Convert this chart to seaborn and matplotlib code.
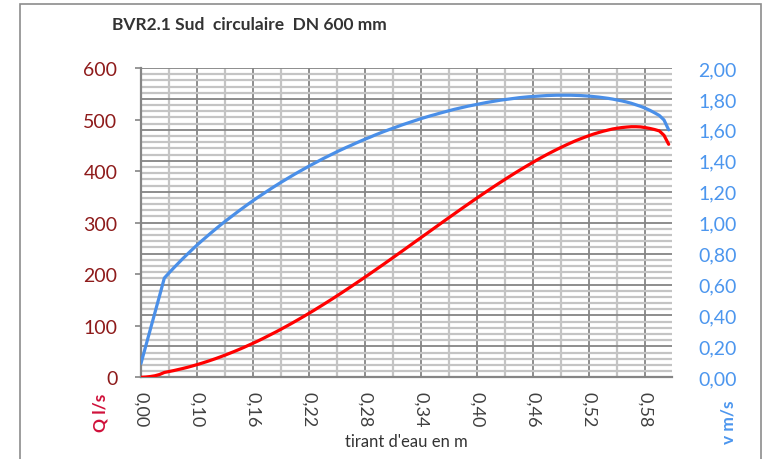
import numpy as np
import pandas as pd
import matplotlib
matplotlib.use("Agg")
import matplotlib.pyplot as plt
from matplotlib.ticker import MultipleLocator, FixedLocator, FuncFormatter
from matplotlib.patches import Rectangle
import seaborn as sns

# ---------------- data ----------------
depth_m = [0.002, 0.01, 0.02, 0.03, 0.04, 0.06,
           0.065, 0.07, 0.075, 0.08, 0.085, 0.09, 0.095, 0.10, 0.105, 0.11, 0.115, 0.12,
           0.125, 0.13, 0.135, 0.14, 0.145, 0.15, 0.155, 0.16, 0.165, 0.17, 0.175, 0.18,
           0.185, 0.19, 0.195, 0.20, 0.205, 0.21, 0.215, 0.22, 0.225, 0.23, 0.235, 0.24,
           0.245, 0.25, 0.255, 0.26, 0.265, 0.27, 0.275, 0.28, 0.285, 0.29, 0.295, 0.30,
           0.305, 0.31, 0.315, 0.32, 0.325, 0.33, 0.335, 0.34, 0.345, 0.35, 0.355, 0.36,
           0.365, 0.37, 0.375, 0.38, 0.385, 0.39, 0.395, 0.40, 0.405, 0.41, 0.415, 0.42,
           0.425, 0.43, 0.435, 0.44, 0.445, 0.45, 0.455, 0.46, 0.465, 0.47, 0.475, 0.48,
           0.485, 0.49, 0.495, 0.50, 0.505, 0.51, 0.515, 0.52, 0.525, 0.53, 0.535, 0.54,
           0.545, 0.55, 0.555, 0.56, 0.565, 0.57, 0.575, 0.58, 0.585, 0.59, 0.595, 0.60]

flow_ls = [0.0, 0.5, 1.5, 3.0, 5.5, 9.4,
           11.2, 13.0, 15.1, 17.2, 19.5, 22.0, 24.6, 27.3, 30.2, 33.2, 36.3, 39.6,
           43.0, 46.6, 50.2, 54.0, 57.9, 62.0, 66.1, 70.3, 74.7, 79.3, 83.9, 88.5,
           93.4, 98.3, 103.3, 108.4, 113.6, 118.9, 124.3, 129.7, 135.3, 140.9, 146.6, 152.3,
           158.2, 164.1, 170.1, 176.1, 182.2, 188.3, 194.5, 200.7, 207.0, 213.3, 219.6, 226.0,
           232.4, 238.9, 245.3, 251.8, 258.3, 264.8, 271.2, 277.7, 284.2, 290.7, 297.2, 303.7,
           310.1, 316.5, 322.9, 329.3, 335.6, 341.9, 348.1, 354.3, 360.4, 366.5, 372.5, 378.4,
           384.2, 390.0, 395.7, 401.3, 406.7, 412.1, 417.4, 422.6, 427.6, 432.5, 437.2, 441.8,
           446.2, 450.5, 454.6, 458.6, 462.2, 465.7, 469.0, 472.1, 474.8, 477.4, 479.6, 481.7,
           483.2, 484.5, 485.4, 486.1, 486.1, 485.7, 484.4, 482.7, 480.6, 478.0, 469.4, 452.0]

velocity_ms = [0.09, 0.20, 0.31, 0.42, 0.53, 0.642,
               0.675, 0.707, 0.738, 0.769, 0.798, 0.827, 0.855, 0.882, 0.908, 0.934, 0.959, 0.984,
               1.008, 1.031, 1.054, 1.077, 1.099, 1.121, 1.142, 1.163, 1.183, 1.203, 1.223, 1.242,
               1.261, 1.279, 1.297, 1.315, 1.332, 1.349, 1.366, 1.382, 1.398, 1.414, 1.429, 1.444,
               1.459, 1.473, 1.487, 1.500, 1.514, 1.527, 1.540, 1.552, 1.565, 1.577, 1.589, 1.600,
               1.611, 1.622, 1.633, 1.643, 1.653, 1.663, 1.673, 1.682, 1.691, 1.699, 1.708, 1.716,
               1.724, 1.732, 1.739, 1.746, 1.753, 1.759, 1.765, 1.771, 1.777, 1.782, 1.787, 1.792,
               1.796, 1.800, 1.804, 1.808, 1.811, 1.814, 1.816, 1.818, 1.820, 1.822, 1.823, 1.824,
               1.824, 1.824, 1.824, 1.823, 1.822, 1.820, 1.818, 1.815, 1.812, 1.808, 1.804, 1.799,
               1.793, 1.787, 1.780, 1.772, 1.762, 1.752, 1.740, 1.726, 1.710, 1.693, 1.664, 1.600]

x_tick_labels = ["0,00", "0,10", "0,16", "0,22", "0,28", "0,34", "0,40", "0,46", "0,52", "0,58"]
q_ticks = [0, 100, 200, 300, 400, 500, 600]
v_ticks = [0.0, 0.2, 0.4, 0.6, 0.8, 1.0, 1.2, 1.4, 1.6, 1.8, 2.0]

df = pd.DataFrame({"depth": depth_m, "Q": flow_ls, "v": velocity_ms})
df["cat"] = np.arange(len(df))

# ---------------- style ----------------
sns.set_style("white")
plt.rcParams["font.family"] = ["Lato", "DejaVu Sans"]

RED = "#FF0000"
BLUE = "#4A8FE8"
BLUE_TXT = "#4C96EE"
DARKRED = "#8E1B1B"
CRIMSON = "#D0103A"
DARKGRID = "#858585"
LIGHTGRID = "#C4C4C4"
TICKSIZE = 14

fig = plt.figure(figsize=(7.69, 4.60), dpi=100)
ax = fig.add_axes([141/769, 1-378.3/460, (671.7-141)/769, (378.3-69)/460])

# velocity axis (carries the grid)
sns.lineplot(data=df, x="cat", y="v", ax=ax, color=BLUE, linewidth=2.3, zorder=5)
ax.set_ylim(0, 2.0)
ax.set_xlim(0, len(df) - 0.35)
ax.yaxis.set_major_locator(FixedLocator(v_ticks))
ax.yaxis.set_minor_locator(MultipleLocator(0.04))
ax.xaxis.set_major_locator(FixedLocator(list(range(0, len(df), 12))))
ax.xaxis.set_minor_locator(MultipleLocator(6))
ax.set_xticklabels(x_tick_labels, rotation=-90, fontsize=13, color="#404040")
ax.yaxis.set_major_formatter(FuncFormatter(lambda val, p: f"{val:.2f}".replace(".", ",")))
ax.grid(True, which="major", color=DARKGRID, linewidth=1.3)
ax.grid(True, which="minor", color=LIGHTGRID, linewidth=1.6)
ax.set_axisbelow(True)
ax.set_xlabel("")
ax.set_ylabel("")
for side in ["top", "right"]:
    ax.spines[side].set_visible(False)
for side in ["left", "bottom"]:
    ax.spines[side].set_color(DARKGRID)
    ax.spines[side].set_linewidth(1.6)
    ax.spines[side].set_zorder(3)

# flow axis
axq = ax.twinx()
sns.lineplot(data=df, x="cat", y="Q", ax=axq, color=RED, linewidth=2.3, zorder=5)
axq.set_ylim(0, 600)
axq.yaxis.set_major_locator(FixedLocator(q_ticks))
axq.yaxis.tick_left()
axq.yaxis.set_label_position("left")
axq.tick_params(axis="y", direction="out", length=4, width=1.2, color=DARKGRID,
                pad=13, labelsize=TICKSIZE, labelcolor=DARKRED)
axq.set_ylabel("")
axq.set_xlabel("")
axq.grid(False)
for s in axq.spines.values():
    s.set_visible(False)

# velocity labels on the right (after twinx, which resets them)
ax.yaxis.tick_right()
ax.yaxis.set_label_position("right")
ax.tick_params(axis="y", which="both", left=False, right=True, labelleft=False,
               labelright=True, length=0, pad=19, labelsize=TICKSIZE, labelcolor=BLUE_TXT)
ax.tick_params(axis="x", which="major", direction="out", length=6, width=1.2,
               color=DARKGRID, pad=4)
ax.tick_params(axis="x", which="minor", length=0)

# texts
fig.text(249/769, 1-25/460, "BVR2.1 Sud  circulaire  DN 600 mm", ha="center", va="center",
         fontsize=12.5, fontweight="bold", color="#333333")
fig.text(406/769, 1-442/460, "tirant d'eau en m", ha="center", va="center",
         fontsize=12, color="#333333")
fig.text(101/769, 1-413/460, "Q l/s", ha="center", va="center", rotation=90,
         fontsize=12.5, fontweight="bold", color=CRIMSON)
fig.text(728/769, 1-422/460, "v m/s", ha="center", va="center", rotation=90,
         fontsize=12.5, fontweight="bold", color=BLUE_TXT)

# outer chart border
fig.patches.append(Rectangle((20/769, -0.05), (761-20)/769, 1.05 - 5/460,
                             transform=fig.transFigure, fill=False,
                             edgecolor="#8C8C8C", linewidth=1.2))

fig.savefig("out.png", dpi=100)
